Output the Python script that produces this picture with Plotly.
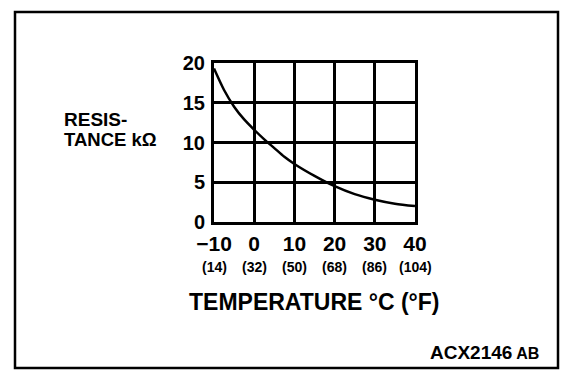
import plotly.graph_objects as go

# Data
temp_c = [-10, -7.5, -5, -2.5, 0, 2.5, 5, 7.5, 10, 15, 20, 25, 30, 35, 40]
resistance_kohm = [19.3, 16.6, 14.5, 12.9, 11.6, 10.4, 9.3, 8.2, 7.3, 5.8, 4.5, 3.5, 2.8, 2.3, 2.0]

x_tick_vals = [-10, 0, 10, 20, 30, 40]
x_tick_c = ["\u221210", "0", "10", "20", "30", "40"]
x_tick_f = ["(14)", "(32)", "(50)", "(68)", "(86)", "(104)"]
y_tick_vals = [0, 5, 10, 15, 20]

OFF = 8  # default page body margin
W, H = 576 - 2 * OFF, 378 - 2 * OFF
L, R, T, B = 214 - OFF, 415 - OFF, 63 - OFF, 222 - OFF  # plot area in figure pixels
FONT = "Liberation Sans, Arial, sans-serif"


def px(x):
    return (x - OFF - L) / (R - L)


def py(y):
    return (B - (y - OFF)) / (B - T)


fig = go.Figure()
fig.add_trace(go.Scatter(
    x=temp_c, y=resistance_kohm, mode="lines",
    line=dict(color="black", width=2.5, shape="spline", smoothing=0.8),
    hoverinfo="skip", showlegend=False,
))

annotations = [
    dict(text="<b>RESIS-</b>", xref="paper", yref="paper",
         x=px(62), y=py(119), xanchor="left", yanchor="middle",
         showarrow=False, font=dict(size=19, family=FONT)),
    dict(text="<b>TANCE k\u03a9</b>", xref="paper", yref="paper",
         x=px(62), y=py(139), xanchor="left", yanchor="middle",
         showarrow=False, font=dict(size=18.5, family=FONT)),
    dict(text="<b>TEMPERATURE \u00b0C (\u00b0F)</b>", xref="paper", yref="paper",
         x=px(314), y=py(302), xanchor="center", yanchor="middle",
         showarrow=False, font=dict(size=23, family=FONT)),
    dict(text="<b>ACX2146</b><span style='font-size:16px'><b> AB</b></span>",
         xref="paper", yref="paper",
         x=px(541), y=py(352), xanchor="right", yanchor="middle",
         showarrow=False, font=dict(size=19, family=FONT)),
]
for xv, f in zip(x_tick_vals, x_tick_f):
    annotations.append(dict(
        text=f"<b>{f}</b>", xref="x", yref="paper", x=xv, y=py(267),
        xanchor="center", yanchor="middle", showarrow=False,
        font=dict(size=14, family=FONT)))

fig.update_layout(
    width=W, height=H,
    margin=dict(l=L, r=W - R, t=T, b=H - B, pad=0),
    paper_bgcolor="white", plot_bgcolor="white",
    font=dict(family=FONT, color="black"),
    xaxis=dict(
        range=[-10, 40], tickvals=x_tick_vals,
        ticktext=[f"<b>{c}</b>" for c in x_tick_c],
        showgrid=True, gridcolor="black", gridwidth=2.5,
        showline=True, linecolor="black", linewidth=3, mirror=True,
        zeroline=False, ticks="", tickfont=dict(size=21, family=FONT),
        ticklabelstandoff=1, fixedrange=True,
    ),
    yaxis=dict(
        range=[0, 20], tickvals=y_tick_vals,
        ticktext=[f"<b>{v}</b>" for v in y_tick_vals],
        showgrid=True, gridcolor="black", gridwidth=2.5,
        showline=True, linecolor="black", linewidth=3, mirror=True,
        zeroline=False, ticks="", tickfont=dict(size=20, family=FONT),
        ticklabelstandoff=2, fixedrange=True,
    ),
    shapes=[dict(
        type="rect", xref="paper", yref="paper",
        x0=px(15), x1=px(558), y0=py(368), y1=py(12),
        line=dict(color="black", width=2.5), layer="below",
    )],
    annotations=annotations,
)

fig.write_html("out.html")
